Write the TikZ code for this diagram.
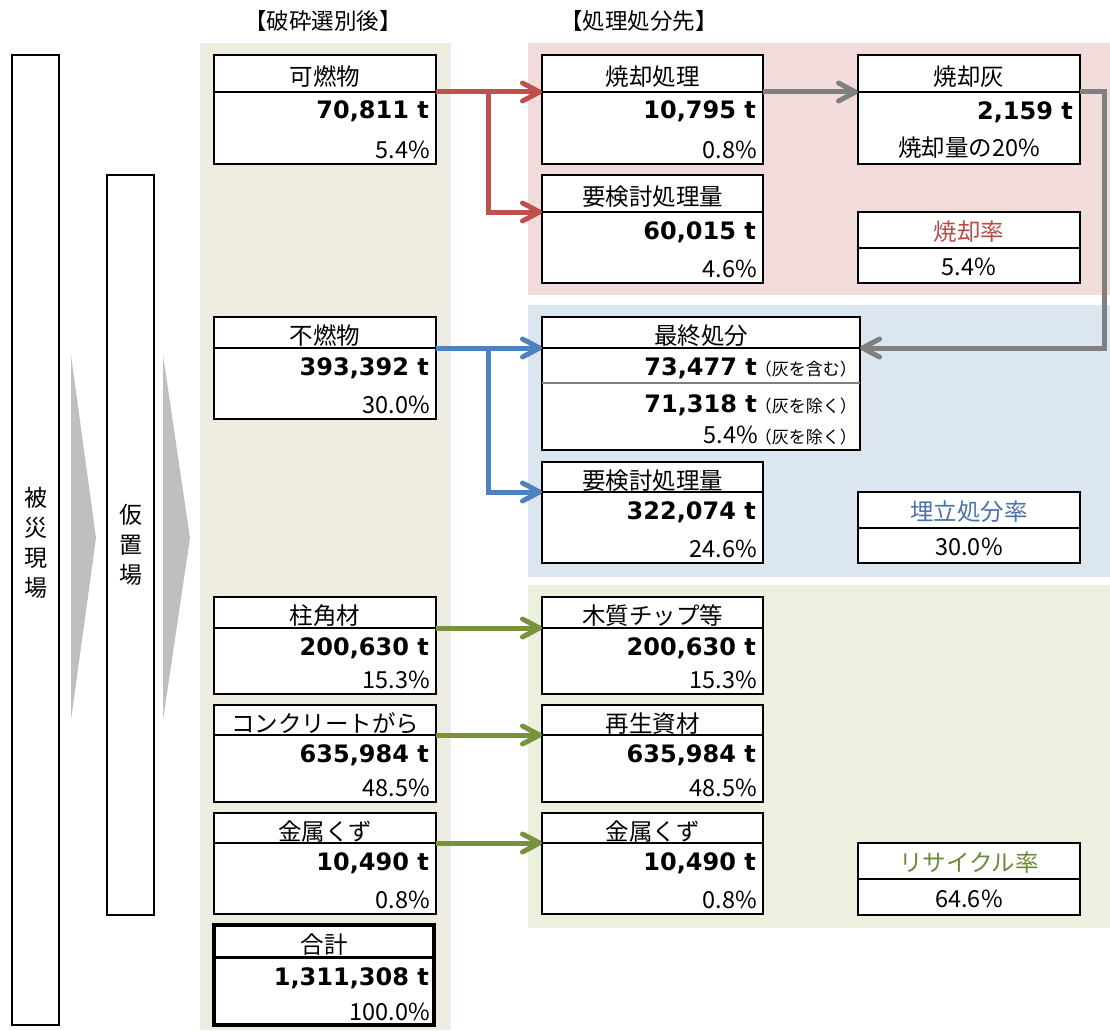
\documentclass[tikz,border=0pt]{standalone}
\usepackage{fontspec}
\setmainfont{Noto Sans CJK JP}
\newfontfamily\numfont{DejaVu Sans}
\usetikzlibrary{arrows.meta}
\definecolor{tanbg}{HTML}{EEEBE0}
\definecolor{pinkbg}{HTML}{F2DCDB}
\definecolor{bluebg}{HTML}{DCE6F1}
\definecolor{greenbg}{HTML}{EBF1DE}
\definecolor{redc}{HTML}{C0504D}
\definecolor{bluec}{HTML}{4F81BD}
\definecolor{greenc}{HTML}{77933C}
\definecolor{grayc}{HTML}{808080}
\definecolor{trig}{HTML}{BFBFBF}
\definecolor{redt}{HTML}{B84A4A}
\definecolor{bluet}{HTML}{4A72AC}
\definecolor{greent}{HTML}{6B8A38}
\tikzset{
 frame/.style={draw=black, line width=2.6pt, fill=white, inner sep=0pt, outer sep=0pt},
 thickframe/.style={draw=black, line width=4.5pt, fill=white, inner sep=0pt, outer sep=0pt},
 divline/.style={black, line width=2.4pt},
 ttl/.style={font=\fontsize{23.5}{23.5}\selectfont, inner sep=0pt, anchor=base},
 valst/.style={font=\numfont\bfseries\fontsize{24}{24}\selectfont, inner sep=0pt, anchor=base east},
 pctst/.style={font=\fontsize{23.5}{23.5}\selectfont, inner sep=0pt, anchor=base east},
 cpct/.style={font=\fontsize{23.5}{23.5}\selectfont, inner sep=0pt, anchor=base},
 notest/.style={font=\fontsize{17}{17}\selectfont, inner sep=0pt, anchor=base east},
 conn/.style={line width=5pt, -{Straight Barb[length=17pt,width=18pt,round]}},
 vtext/.style={font=\fontsize{23}{30}\selectfont, align=center, inner sep=0pt},
 hdr/.style={font=\fontsize{22.5}{22.5}\selectfont, inner sep=0pt, anchor=base},
}
\newcommand\dbox[9]{%
 \node[frame, minimum width={#3-#2}, minimum height={#6-#4}, anchor=north west] (#1) at (#2,#4) {};
 \coordinate (#1-l) at (#2,#5);
 \coordinate (#1-r) at (#3,#5);
 \draw[divline] (#1-l) -- (#1-r);
 \node[ttl] (#1-t) at ({(#2+#3)/2},{(#4+#5)/2+12}) {#7};
 \node[valst] (#1-v) at ({#3-7},{#5+27}) {#8};
 \node[pctst] (#1-p) at ({#3-6},{#6-6}) {#9};
}
\newcommand\rbox[8]{%
 \node[frame, minimum width={#3-#2}, minimum height={#6-#4}, anchor=north west] (#1) at (#2,#4) {};
 \coordinate (#1-l) at (#2,#5);
 \coordinate (#1-r) at (#3,#5);
 \draw[divline] (#1-l) -- (#1-r);
 \node[ttl] (#1-t) at ({(#2+#3)/2},{#5-8}) {#7};
 \node[cpct] (#1-p) at ({(#2+#3)/2},{#6-8}) {#8};
}
\begin{document}
\begin{tikzpicture}[x=1pt,y=-1pt]
\useasboundingbox (0,0) rectangle (1110,1030);
% backgrounds
\fill[tanbg] (200,43) rectangle (451,1030);
\fill[pinkbg] (528,43) rectangle (1110,295);
\fill[bluebg] (528,305) rectangle (1110,577);
\fill[greenbg] (528,585) rectangle (1110,928);
% headers
\node[hdr] (h1) at (323,30) {【破砕選別後】};
\node[hdr] (h2) at (639,30) {【処理処分先】};
% tall boxes
\node[frame, minimum width=47, minimum height=970, anchor=north west] (genba) at (12,55) {};
\node[vtext] (genba-t) at (35.5,543) {被\\災\\現\\場};
\node[frame, minimum width=47, minimum height=740, anchor=north west] (kari) at (107,175) {};
\node[vtext] (kari-t) at (130.5,545) {仮\\置\\場};
% chevrons
\fill[trig] (71,355) -- (96,538) -- (71,720) -- cycle;
\fill[trig] (163,355) -- (190,538) -- (163,720) -- cycle;
% left column
\dbox{kanen}{214}{436}{55}{92}{164}{可燃物}{70,811 t}{5.4\%}
\dbox{funen}{214}{436}{317}{348}{419}{不燃物}{393,392 t}{30.0\%}
\dbox{hashira}{214}{436}{597}{628}{694}{柱角材}{200,630 t}{15.3\%}
\dbox{con}{214}{436}{705}{735}{802}{コンクリートがら}{635,984 t}{48.5\%}
\dbox{kin}{214}{436}{813}{843}{914}{金属くず}{10,490 t}{0.8\%}
% total
\node[thickframe, minimum width=220, minimum height=100, anchor=north west] (gokei) at (214,925) {};
\coordinate (gokei-l) at (214,957);
\coordinate (gokei-r) at (434,957);
\draw[divline, line width=3pt] (gokei-l) -- (gokei-r);
\node[ttl] (gokei-t) at (324,953) {合計};
\node[valst] (gokei-v) at (429,985) {1,311,308 t};
\node[pctst] (gokei-p) at (430,1020) {100.0\%};
% right column
\dbox{shoki}{542}{763}{55}{92}{164}{焼却処理}{10,795 t}{0.8\%}
\dbox{yoken}{542}{763}{175}{212}{283}{要検討処理量}{60,015 t}{4.6\%}
\dbox{yokenb}{542}{763}{462}{492}{563}{要検討処理量}{322,074 t}{24.6\%}
\dbox{moku}{542}{763}{597}{628}{694}{木質チップ等}{200,630 t}{15.3\%}
\dbox{saisei}{542}{763}{705}{735}{802}{再生資材}{635,984 t}{48.5\%}
\dbox{kinb}{542}{763}{813}{843}{914}{金属くず}{10,490 t}{0.8\%}
% final disposal
\node[frame, minimum width=318, minimum height=133, anchor=north west] (saishu) at (542,317) {};
\coordinate (saishu-l) at (542,348);
\coordinate (saishu-r) at (860,348);
\draw[divline] (saishu-l) -- (saishu-r);
\coordinate (saishu-gl) at (542,383);
\coordinate (saishu-gr) at (860,383);
\draw[grayc, line width=1.3pt] (saishu-gl) -- (saishu-gr);
\node[ttl] (saishu-t) at (701,344) {最終処分};
\node[valst] (saishu-v1) at (757,375) {73,477 t};
\node[notest] (saishu-n1) at (857,375) {（灰を含む）};
\node[valst] (saishu-v2) at (757,412) {71,318 t};
\node[notest] (saishu-n2) at (857,412) {（灰を除く）};
\node[pctst] (saishu-p) at (758,443) {5.4\%};
\node[notest] (saishu-n3) at (857,443) {（灰を除く）};
% ash
\node[frame, minimum width=222, minimum height=109, anchor=north west] (hai) at (858,55) {};
\coordinate (hai-l) at (858,92);
\coordinate (hai-r) at (1080,92);
\draw[divline] (hai-l) -- (hai-r);
\node[ttl] (hai-t) at (969,86) {焼却灰};
\node[valst] (hai-v) at (1073,120) {2,159 t};
\node[cpct] (hai-p) at (969,156) {焼却量の20\%};
% rates
\rbox{rate1}{858}{1080}{212}{248}{283}{\textcolor{redt}{焼却率}}{5.4\%}
\rbox{rate2}{858}{1080}{492}{528}{563}{\textcolor{bluet}{埋立処分率}}{30.0\%}
\rbox{rate3}{858}{1080}{843}{879}{915}{\textcolor{greent}{リサイクル率}}{64.6\%}
% connectors
\coordinate (rb) at (488,92);
\draw[conn, redc] (kanen-r) -- (shoki-l);
\draw[conn, redc] (rb) |- (yoken-l);
\draw[conn, grayc] (shoki-r) -- (hai-l);
\coordinate (gturn) at (1104,92);
\draw[conn, grayc] (hai-r) -- (gturn) |- (saishu-r);
\coordinate (bb) at (488,348);
\draw[conn, bluec] (funen-r) -- (saishu-l);
\draw[conn, bluec] (bb) |- (yokenb-l);
\draw[conn, greenc] (hashira-r) -- (moku-l);
\draw[conn, greenc] (con-r) -- (saisei-l);
\draw[conn, greenc] (kin-r) -- (kinb-l);
\end{tikzpicture}
\end{document}
